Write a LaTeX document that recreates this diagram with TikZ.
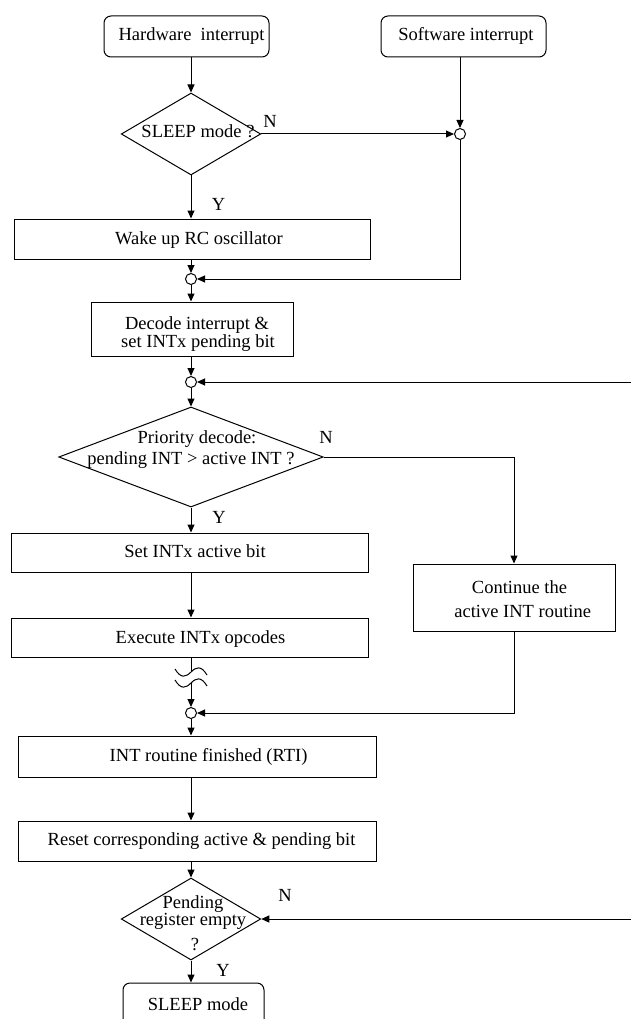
\documentclass[tikz,border=0pt]{standalone}
\usepackage{fontspec}
\setmainfont{Liberation Serif}
\usetikzlibrary{arrows.meta,shapes.geometric}
\begin{document}
\begin{tikzpicture}[x=1pt,y=-1pt,
  lw/.style={line width=1pt},
  box/.style={draw, lw, rectangle, inner sep=0pt},
  rbox/.style={box, rounded corners=7pt},
  dia/.style={draw, lw, diamond, inner sep=0pt},
  junc/.style={draw, lw, circle, minimum size=11pt, inner sep=0pt, fill=white},
  lbl/.style={inner sep=0pt, anchor=center, text height=12pt, text depth=4pt, font=\fontsize{18.5}{18.5}\selectfont},
  arr/.style={lw, -{Triangle[length=8pt,width=7pt]}},
  ln/.style={lw}]
\useasboundingbox (0,0) rectangle (631,1019);
\clip (0,0) rectangle (631,1019);

% nodes
\node[rbox, minimum width=165pt, minimum height=41pt] (hw) at (186.5,36.5) {};
\node[lbl] (thw) at (191.5,37) {Hardware\ \ interrupt};
\node[rbox, minimum width=165pt, minimum height=41pt] (sw) at (463.5,36.5) {};
\node[lbl] (tsw) at (466,37) {Software interrupt};

\node[dia, minimum width=139.5pt, minimum height=82pt] (d1) at (191,134) {};
\node[lbl] (td1) at (198,134) {SLEEP mode ?};
\node[junc] (c1) at (460,134) {};
\node[lbl] (n1) at (270,124) {N};
\node[lbl] (y1) at (218.5,206) {Y};

\node[box, minimum width=356pt, minimum height=40pt] (wake) at (192.5,239) {};
\node[lbl] (twake) at (199,240) {Wake up RC oscillator};
\node[junc] (c2) at (191,279) {};

\node[box, minimum width=202pt, minimum height=54pt] (dec) at (192,329) {};
\node[lbl] (tdec1) at (197,325) {Decode interrupt \&};
\node[lbl] (tdec2) at (198,343) {set INTx pending bit};
\node[junc] (c3) at (191,382) {};
\coordinate (r1) at (631,382);

\node[dia, minimum width=264.5pt, minimum height=100pt] (d2) at (191,457) {};
\node[lbl] (td2a) at (197,439) {Priority decode:};
\node[lbl] (td2b) at (191,460) {pending INT > active INT ?};
\node[lbl] (n2) at (326,439) {N};
\node[lbl] (y2) at (219,519) {Y};

\node[box, minimum width=357pt, minimum height=39pt] (set) at (189.5,552.5) {};
\node[lbl] (tset) at (195,553) {Set INTx active bit};
\node[box, minimum width=357pt, minimum height=39pt] (exe) at (189.5,637.5) {};
\node[lbl] (texe) at (200.5,639) {Execute INTx opcodes};

\node[box, minimum width=202pt, minimum height=67pt] (cont) at (514,597.5) {};
\node[lbl] (tcont1) at (519.5,589) {Continue the};
\node[lbl] (tcont2) at (522.7,613) {active INT routine};

\coordinate (b1) at (191,672);
\coordinate (b2) at (191,683);
\node[junc] (c4) at (191,713) {};

\node[box, minimum width=358pt, minimum height=41pt] (rti) at (197,756.5) {};
\node[lbl] (trti) at (208.6,757) {INT routine finished (RTI)};
\node[box, minimum width=358pt, minimum height=40pt] (rst) at (197,841) {};
\node[lbl] (trst) at (201.6,841.5) {Reset corresponding active \& pending bit};

\node[dia, minimum width=139.5pt, minimum height=82pt] (d3) at (191,919) {};
\node[lbl] (td3a) at (193,904) {Pending};
\node[lbl] (td3b) at (193,921) {register empty};
\node[lbl] (td3c) at (195,946) {?};
\coordinate (r2) at (631,919);
\node[lbl] (n3) at (285,897) {N};
\node[lbl] (y3) at (223,972) {Y};

\node[rbox, minimum width=141pt, minimum height=62pt] (slp) at (193.5,1014) {};
\node[lbl] (tslp) at (198,1006) {SLEEP mode};

% connectors
\draw[arr] (hw.south -| d1.north) -- (d1.north);
\draw[arr] (sw.south -| c1.north) -- (c1.north);
\draw[arr] (d1.east) -- (c1.west);
\draw[arr] (c1.south) |- (c2.east);
\draw[arr] (d1.south) -- (d1.south |- wake.north);
\draw[arr] (wake.south -| c2.north) -- (c2.north);
\draw[arr] (c2.south) -- (c2.south |- dec.north);
\draw[arr] (dec.south -| c3.north) -- (c3.north);
\draw[arr] (r1) -- (c3.east);
\draw[arr] (c3.south) -- (d2.north);
\draw[arr] (d2.east) -| (cont.north);
\draw[arr] (d2.south) -- (d2.south |- set.north);
\draw[arr] (set.south -| d2.south) -- (d2.south |- exe.north);
\draw[ln] (exe.south -| b1) -- (b1);
\draw[arr] (b2) -- (c4.north);
\draw[arr] (cont.south) |- (c4.east);
\draw[arr] (c4.south) -- (c4.south |- rti.north);
\draw[arr] (rti.south -| c4.south) -- (c4.south |- rst.north);
\draw[arr] (rst.south -| d3.north) -- (d3.north);
\draw[arr] (r2) -- (d3.east);
\draw[arr] (d3.south) -- (d3.south |- slp.north);

% break marks
\draw[ln] ([xshift=-16pt,yshift=3pt]b1) .. controls ([xshift=-10pt,yshift=-7pt]b1) and ([xshift=-5pt,yshift=-5pt]b1) .. (b1)
  .. controls ([xshift=5pt,yshift=5pt]b1) and ([xshift=10pt,yshift=7pt]b1) .. ([xshift=16pt,yshift=-3pt]b1);
\draw[ln] ([xshift=-16pt,yshift=3pt]b2) .. controls ([xshift=-10pt,yshift=-7pt]b2) and ([xshift=-5pt,yshift=-5pt]b2) .. (b2)
  .. controls ([xshift=5pt,yshift=5pt]b2) and ([xshift=10pt,yshift=7pt]b2) .. ([xshift=16pt,yshift=-3pt]b2);
\end{tikzpicture}
\end{document}
